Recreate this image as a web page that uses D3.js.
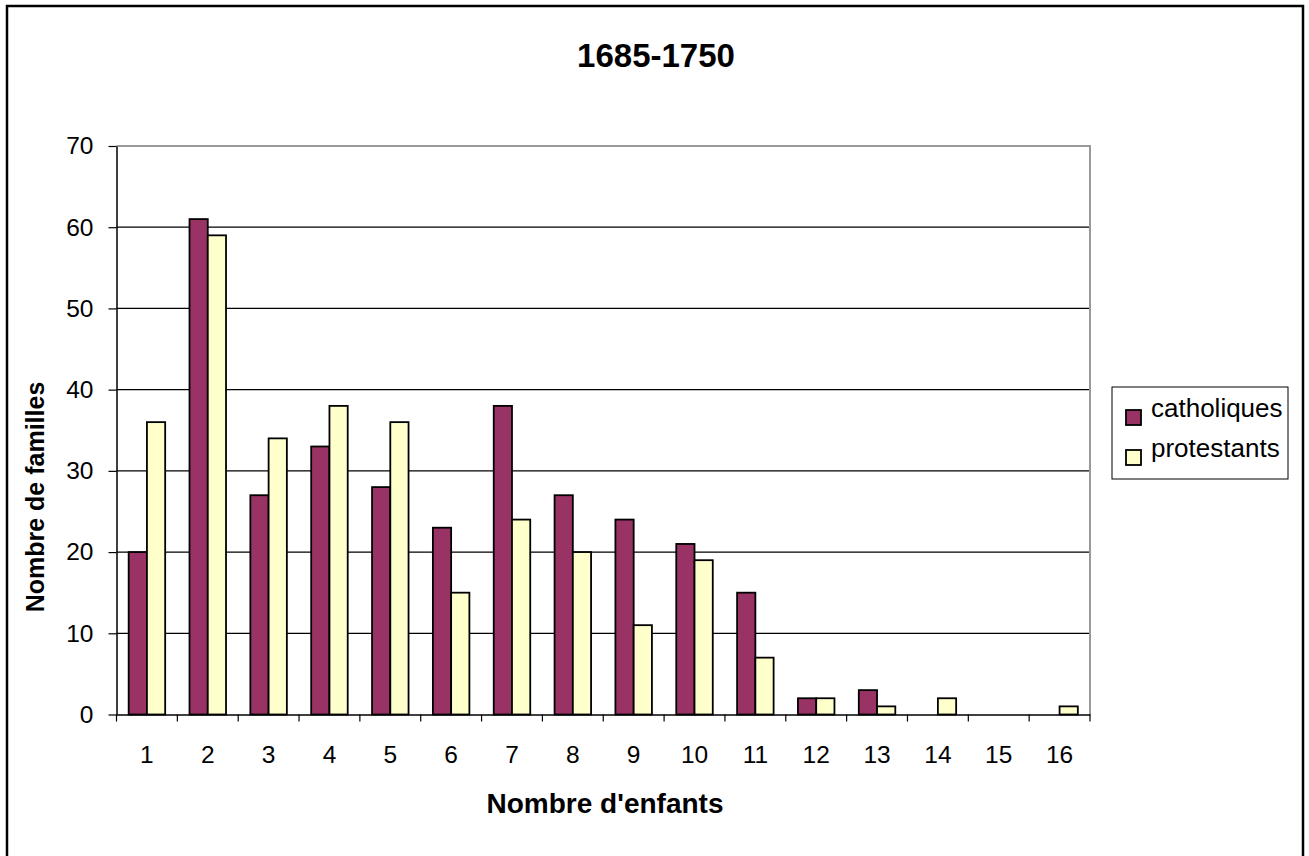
<!DOCTYPE html>
<html>
<head>
<meta charset="utf-8">
<script src="https://cdn.jsdelivr.net/npm/d3@7"></script>
<style>
  html, body { margin: 0; padding: 0; background: #fff; }
  svg { display: block; font-family: "Liberation Sans", Arial, sans-serif; }
</style>
</head>
<body>
<svg id="chart" width="1309" height="856"></svg>
<script>
// Nombre d'enfants par famille, 1685-1750
const categories = ["1","2","3","4","5","6","7","8","9","10","11","12","13","14","15","16"];
const catholiques = [20, 61, 27, 33, 28, 23, 38, 27, 24, 21, 15, 2, 3, 0, 0, 0];
const protestants = [36, 59, 34, 38, 36, 15, 24, 20, 11, 19, 7, 2, 1, 2, 0, 1];
const seriesNames = ["catholiques", "protestants"];
const seriesColors = ["#993366", "#FFFFCC"];
const yTicks = [0, 10, 20, 30, 40, 50, 60, 70];

const FONT = "Liberation Sans, Arial, sans-serif";
const svg = d3.select("#chart");

// outer chart frame
svg.append("rect")
  .attr("x", 7).attr("y", 6).attr("width", 1296).attr("height", 860)
  .attr("fill", "#fff").attr("stroke", "#000").attr("stroke-width", 2.5);

const plot = { left: 116.5, top: 146, right: 1090, bottom: 714.5 };

const x = d3.scaleBand().domain(categories).range([plot.left, plot.right]).padding(0);
const y = d3.scaleLinear().domain([0, 70]).range([plot.bottom, plot.top]);
const barW = x.bandwidth() * 0.3;
const xs = d3.scaleBand().domain(seriesNames).range([0, barW * 2]);

// horizontal gridlines
svg.append("g").selectAll("line").data(yTicks.filter(t => t > 0 && t < 70)).join("line")
  .attr("x1", plot.left).attr("x2", plot.right)
  .attr("y1", d => y(d)).attr("y2", d => y(d))
  .attr("stroke", "#000").attr("stroke-width", 1.2);

// plot area border (top and right)
svg.append("path")
  .attr("d", `M${plot.left},${plot.top}H${plot.right}V${plot.bottom}`)
  .attr("fill", "none").attr("stroke", "#999").attr("stroke-width", 2);

// bars
const data = [catholiques, protestants];
data.forEach((vals, si) => {
  svg.append("g").selectAll("rect").data(vals).join("rect")
    .attr("x", (d, i) => x(categories[i]) + x.bandwidth() / 2 - barW + xs(seriesNames[si]))
    .attr("y", d => y(d))
    .attr("width", xs.bandwidth())
    .attr("height", d => plot.bottom - y(d))
    .attr("fill", seriesColors[si])
    .attr("stroke", "#000").attr("stroke-width", d => d > 0 ? 1.8 : 0);
});

// y axis
const yAxis = svg.append("g").attr("transform", `translate(${plot.left},0)`)
  .call(d3.axisLeft(y).tickValues(yTicks).tickSize(8).tickPadding(15).tickSizeOuter(0));
yAxis.select(".domain").attr("stroke", "#000").attr("stroke-width", 1.5);
yAxis.selectAll(".tick line").attr("stroke", "#000").attr("stroke-width", 1.2);
yAxis.selectAll(".tick text").attr("font-size", 24.5).attr("fill", "#000").attr("font-family", FONT);

// x axis
const xAxis = svg.append("g").attr("transform", `translate(0,${plot.bottom})`)
  .call(d3.axisBottom(x).tickSize(0).tickPadding(31).tickSizeOuter(0));
xAxis.select(".domain").attr("stroke", "#000").attr("stroke-width", 1.5);
xAxis.selectAll(".tick text").attr("font-size", 24.5).attr("fill", "#000").attr("font-family", FONT);
// category boundary ticks
svg.append("g").selectAll("line").data(categories.concat(["end"])).join("line")
  .attr("x1", (d, i) => i < categories.length ? x(d) : plot.right)
  .attr("x2", (d, i) => i < categories.length ? x(d) : plot.right)
  .attr("y1", plot.bottom).attr("y2", plot.bottom + 7)
  .attr("stroke", "#000").attr("stroke-width", 1.2);

// title
svg.append("text").attr("x", 656).attr("y", 67).attr("text-anchor", "middle")
  .attr("font-size", 33).attr("font-weight", "bold").text("1685-1750");

// axis titles
svg.append("text").attr("x", 605).attr("y", 813).attr("text-anchor", "middle")
  .attr("font-size", 28).attr("font-weight", "bold").text("Nombre d'enfants");
svg.append("text").attr("transform", "translate(44,497) rotate(-90)").attr("text-anchor", "middle")
  .attr("font-size", 25).attr("font-weight", "bold").text("Nombre de familles");

// legend
const lg = svg.append("g");
lg.append("rect").attr("x", 1112).attr("y", 387).attr("width", 176).attr("height", 92)
  .attr("fill", "#fff").attr("stroke", "#000").attr("stroke-width", 1);
seriesNames.forEach((name, i) => {
  const base = 417 + i * 40;
  lg.append("rect").attr("x", 1126).attr("y", base - 7).attr("width", 15).attr("height", 15)
    .attr("fill", seriesColors[i]).attr("stroke", "#000").attr("stroke-width", 1.8);
  lg.append("text").attr("x", 1151).attr("y", base).attr("font-size", 26).text(name);
});
</script>
</body>
</html>
